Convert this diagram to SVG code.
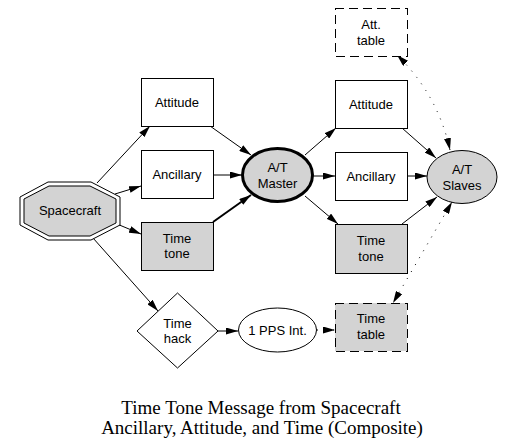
<svg xmlns="http://www.w3.org/2000/svg" width="516" height="447" viewBox="0 0 516 447">
<style>
.n{fill:#fff;stroke:#000;stroke-width:1}
.g{fill:#d3d3d3;stroke:#000;stroke-width:1}
rect{shape-rendering:crispEdges}
.d{stroke-dasharray:9,5}
.t{font-family:"Liberation Sans",Arial,sans-serif;font-size:13px;text-anchor:middle;fill:#000}
.c{font-family:"Liberation Serif","Times New Roman",serif;font-size:19px;text-anchor:middle;fill:#000}
.e{fill:none;stroke:#000;stroke-width:1}
.dot{stroke-dasharray:1,7}
</style>
<defs>
<marker id="a" viewBox="0 0 12 7" refX="12" refY="3.5" markerWidth="12" markerHeight="7" markerUnits="userSpaceOnUse" orient="auto-start-reverse">
<path d="M0,0 L12,3.5 L0,7 Z" fill="#000"/>
</marker>
</defs>
<g id="connectors">
<path class="e" d="M97,183 L150,126" marker-end="url(#a)"/>
<path class="e" d="M115,194 L141,186" marker-end="url(#a)"/>
<path class="e" d="M117,224 L141,234" marker-end="url(#a)"/>
<path class="e" d="M93,238 L158,311" marker-end="url(#a)"/>
<path class="e" d="M210,126 L251,155" marker-end="url(#a)"/>
<path class="e" d="M213,175 L242,175" marker-end="url(#a)"/>
<path class="e" style="stroke-width:2" d="M213,222 L251,195" marker-end="url(#a)"/>
<path class="e" d="M305,155 L336,128" marker-end="url(#a)"/>
<path class="e" d="M313,176 L335,176" marker-end="url(#a)"/>
<path class="e" d="M305,196 L338,224" marker-end="url(#a)"/>
<path class="e" d="M402,128 L436,158" marker-end="url(#a)"/>
<path class="e" d="M407,176 L427,176" marker-end="url(#a)"/>
<path class="e" d="M402,224 L437,197" marker-end="url(#a)"/>
<path class="e dot" d="M450,150 Q438,95 397,55" marker-start="url(#a)" marker-end="url(#a)"/>
<path class="e dot" d="M452,202 L393,303" marker-start="url(#a)" marker-end="url(#a)"/>
<path class="e" d="M218,331 L238,331" marker-end="url(#a)"/>
<path class="e dot" d="M317,330 L335,330" marker-end="url(#a)"/>
</g>
<g id="spacecraft">
<polygon class="n" points="20,197 48,182 91,182 120,197 120,225 91,240 48,240 20,225"/>
<polygon class="g" points="24,199 49,186 90,186 116,199 116,223 90,236 49,236 24,223"/>
<text class="t" x="70" y="215">Spacecraft</text>
</g>
<g id="attitude-l">
<rect class="n" x="141" y="78" width="72" height="48"/>
<text class="t" x="177" y="107">Attitude</text>
</g>
<g id="ancillary-l">
<rect class="n" x="141" y="150" width="72" height="48"/>
<text class="t" x="177" y="179">Ancillary</text>
</g>
<g id="timetone-l">
<rect class="g" x="141" y="222" width="72" height="48"/>
<text class="t" x="177" y="243">Time</text>
<text class="t" x="177" y="258">tone</text>
</g>
<g id="master">
<ellipse cx="277.5" cy="175" rx="35" ry="26.5" fill="#d3d3d3" stroke="#000" stroke-width="3"/>
<text class="t" x="277.5" y="172">A/T</text>
<text class="t" x="277.5" y="188">Master</text>
</g>
<g id="atttable">
<rect class="n d" x="335" y="8" width="72" height="48"/>
<text class="t" x="371" y="29">Att.</text>
<text class="t" x="371" y="45">table</text>
</g>
<g id="attitude-r">
<rect class="n" x="335" y="80" width="72" height="48"/>
<text class="t" x="371" y="109">Attitude</text>
</g>
<g id="ancillary-r">
<rect class="n" x="335" y="152" width="72" height="48"/>
<text class="t" x="371" y="181">Ancillary</text>
</g>
<g id="timetone-r">
<rect class="g" x="335" y="224" width="72" height="49"/>
<text class="t" x="371" y="245">Time</text>
<text class="t" x="371" y="261">tone</text>
</g>
<g id="slaves">
<ellipse class="g" cx="462" cy="177" rx="35" ry="26.5"/>
<text class="t" x="462" y="174">A/T</text>
<text class="t" x="462" y="190">Slaves</text>
</g>
<g id="timehack">
<polygon class="n" points="177.5,293 218,331 177.5,368 137,331"/>
<text class="t" x="177.5" y="328">Time</text>
<text class="t" x="177.5" y="343">hack</text>
</g>
<g id="pps">
<ellipse class="n" cx="277.5" cy="330" rx="39" ry="22"/>
<text class="t" x="277.5" y="335">1 PPS Int.</text>
</g>
<g id="timetable">
<rect class="g d" x="335" y="303" width="72" height="48"/>
<text class="t" x="371" y="323">Time</text>
<text class="t" x="371" y="339">table</text>
</g>
<g id="caption">
<text class="c" x="261" y="414">Time Tone Message from Spacecraft</text>
<text class="c" x="262" y="434">Ancillary, Attitude, and Time (Composite)</text>
</g>
</svg>
